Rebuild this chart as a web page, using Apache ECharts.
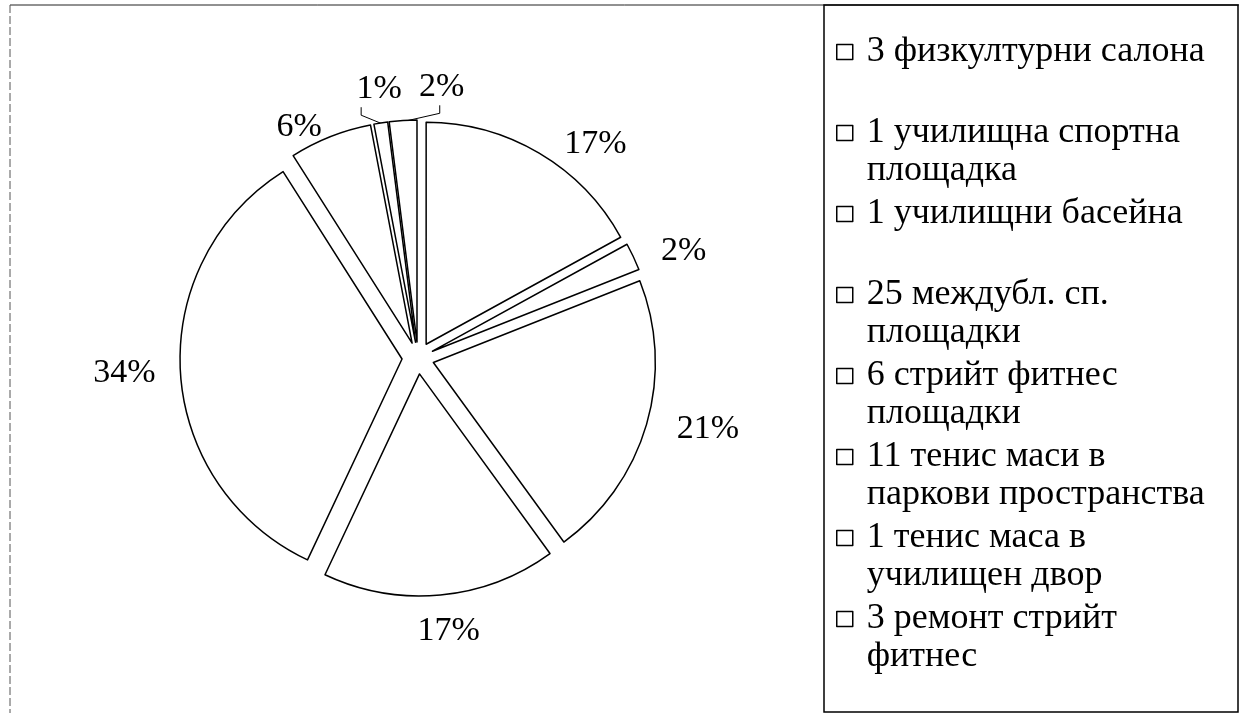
<!DOCTYPE html>
<html>
<head>
<meta charset="utf-8">
<title>Спортни съоръжения</title>
<script src="https://cdn.jsdelivr.net/npm/echarts@6/dist/echarts.min.js"></script>
<style>
html, body { margin: 0; padding: 0; background: #fff; }
#plot { width: 1239px; height: 713px; }
</style>
</head>
<body>
<div id="plot"></div>
<script>
var categories = [
	'3 физкултурни салона',
	'1 училищна спортна площадка',
	'1 училищни басейна',
	'25 междубл. сп. площадки',
	'6 стрийт фитнес площадки',
	'11 тенис маси в паркови пространства',
	'1 тенис маса в училищен двор',
	'3 ремонт стрийт фитнес'
];
// legend text as wrapped in the picture (each entry takes two lines)
var legendLines = [
	['3 физкултурни салона', ' '],
	['1 училищна спортна', 'площадка'],
	['1 училищни басейна', ' '],
	['25 междубл. сп.', 'площадки'],
	['6 стрийт фитнес', 'площадки'],
	['11 тенис маси в', 'паркови пространства'],
	['1 тенис маса в', 'училищен двор'],
	['3 ремонт стрийт', 'фитнес']
];
var percents = [17, 2, 21, 17, 34, 6, 1, 2];

function initChart (element) {
	var serif = 'Liberation Serif';
	var wrapped = {};
	// label distance per slice: [radial, horizontal]; last two get leader lines
	var lineLen = [[10, 15], [14, 10], [18, 8], [36, 0], [10, 10], [10, 0], [10, 10], [10, 10]];
	var data = [];
	for (var i = 0; i < categories.length; i++) {
		// blank first line keeps the icon level with the first text line
		wrapped[categories[i]] = ' \n ' + legendLines[i].join('\n ');
		data.push({
			name: categories[i],
			value: percents[i],
			selected: true,
			labelLine: {show: i >= 6, length: lineLen[i][0], length2: lineLen[i][1]}
		});
	}

	// move a label so its centre lands on (tx, ty)
	function moveTo (p, tx, ty) {
		var lr = p.labelRect;
		return {dx: tx - (lr.x + lr.width / 2), dy: ty - (lr.y + lr.height / 2)};
	}

	var option = {
		animation: false,
		backgroundColor: '#fff',
		graphic: [
			{type: 'line', shape: {x1: 10, y1: 5, x2: 1239, y2: 5}, style: {stroke: '#222', lineWidth: 1}},
			{type: 'line', shape: {x1: 10, y1: 5, x2: 10, y2: 713}, style: {stroke: '#555', lineWidth: 1, lineDash: [8, 3]}},
			{type: 'rect', shape: {x: 824, y: 5, width: 414, height: 707}, style: {fill: 'none', stroke: '#000', lineWidth: 1.5}}
		],
		legend: {
			orient: 'vertical',
			left: 836,
			top: -5,
			padding: 0,
			icon: 'rect',
			itemWidth: 16,
			itemHeight: 15,
			itemGap: -33,
			selectedMode: false,
			itemStyle: {color: '#fff', borderColor: '#000', borderWidth: 1.5},
			textStyle: {
				fontFamily: serif,
				fontSize: 36,
				lineHeight: 38,
				color: '#000'
			},
			formatter: function (name) {
				return wrapped[name];
			},
			data: categories
		},
		series: [
			{
				type: 'pie',
				center: [418, 358],
				radius: 222,
				startAngle: 90,
				clockwise: true,
				selectedMode: 'multiple',
				selectedOffset: 16,
				avoidLabelOverlap: false,
				itemStyle: {color: '#fff', borderColor: '#000', borderWidth: 1.5},
				select: {itemStyle: {color: '#fff', borderColor: '#000', borderWidth: 1.5}},
				emphasis: {disabled: true},
				label: {
					show: true,
					position: 'outside',
					formatter: '{c}%',
					color: '#000',
					fontFamily: serif,
					fontSize: 34
				},
				labelLine: {
					lineStyle: {color: '#000', width: 1}
				},
				labelLayout: function (p) {
					var r = p.rect;
					if (p.dataIndex === 3) {
						return {align: 'center'};
					}
					if (p.dataIndex === 6) {
						var lx = r.x + 6, ty = r.y;
						var m = moveTo(p, lx, ty - 32);
						m.labelLinePoints = [[r.x + 10, ty + 3], [lx - 18, ty - 6], [lx - 18, ty - 14]];
						return m;
					}
					if (p.dataIndex === 7) {
						var lx2 = r.x + r.width + 24, ty2 = r.y;
						var m2 = moveTo(p, lx2, ty2 - 32);
						m2.labelLinePoints = [[r.x + r.width * 0.4, ty2 + 3], [lx2 - 2, ty2 - 6], [lx2 - 2, ty2 - 14]];
						return m2;
					}
				},
				data: data
			}
		]
	};

	var myChart = echarts.init(document.getElementById(element));
	myChart.setOption(option);
}

initChart('plot');
</script>
</body>
</html>
